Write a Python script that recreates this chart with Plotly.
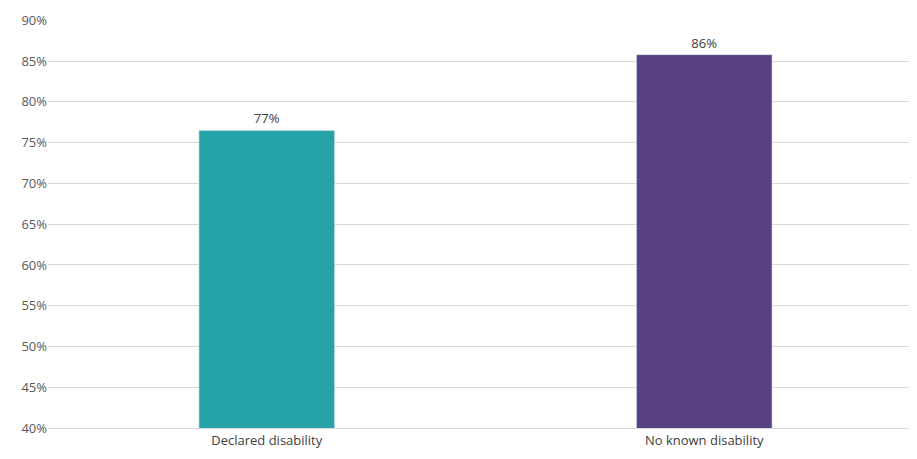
import plotly.graph_objects as go

categories = ["Declared disability", "No known disability"]
values = [0.765, 0.858]
labels = ["77%", "86%"]
colors = ["#26A3A6", "#574183"]

fig = go.Figure(go.Bar(
    x=categories, y=values, marker_color=colors, width=0.31,
    text=labels, textposition="outside", cliponaxis=False,
    textfont=dict(size=13, color="#404040"),
))
fig.update_layout(
    width=917, height=459, plot_bgcolor="white", paper_bgcolor="white",
    margin=dict(l=40, r=2, t=12, b=39), showlegend=False,
    font=dict(family="Open Sans, Liberation Sans, sans-serif", size=12, color="#595959"),
    xaxis=dict(showline=True, linecolor="#D9D9D9", tickfont=dict(size=13, color="#404040")),
    yaxis=dict(range=[0.4, 0.9005], dtick=0.05, tickformat=".0%", gridcolor="#D9D9D9",
               showline=False, zeroline=False, tickfont=dict(size=13, color="#595959")),
)
fig.write_html("out.html")
